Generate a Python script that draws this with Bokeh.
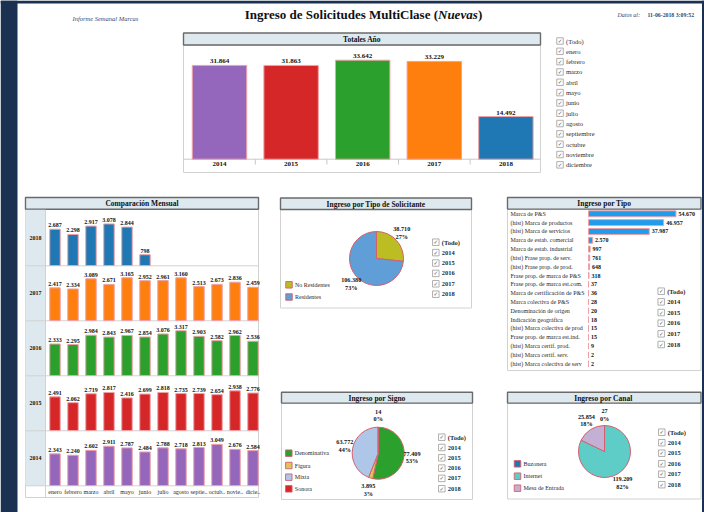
import math
from bokeh.plotting import figure
from bokeh.models import Range1d, ColumnDataSource
from bokeh.core.properties import value
from bokeh.embed import file_html
from bokeh.resources import INLINE

# ---------------- data ----------------
years = ["2014", "2015", "2016", "2017", "2018"]
year_totals = [31864, 31863, 33642, 33229, 14492]
year_colors = ["#9467bd", "#d62728", "#2ca02c", "#ff7f0e", "#1f77b4"]

month_names = ["enero", "febrero", "marzo", "abril", "mayo", "junio", "julio",
               "agosto", "septiembre", "octubre", "noviembre", "diciembre"]
month_axis_labels = ["enero", "febrero", "marzo", "abril", "mayo", "junio", "julio",
                     "agosto", "septie..", "octub..", "novie..", "dicie.."]
monthly_2018 = [2687, 2298, 2917, 3078, 2844, 798]
monthly_2017 = [2417, 2334, 3089, 2671, 3165, 2952, 2961, 3160, 2513, 2673, 2836, 2459]
monthly_2016 = [2333, 2295, 2984, 2843, 2967, 2854, 3076, 3317, 2903, 2582, 2962, 2536]
monthly_2015 = [2491, 2062, 2719, 2817, 2416, 2699, 2818, 2735, 2739, 2654, 2938, 2776]
monthly_2014 = [2343, 2240, 2602, 2911, 2787, 2484, 2788, 2718, 2813, 3049, 2676, 2584]

solicitante_cats = ["No Residentes", "Residentes"]
solicitante_vals = [38710, 106380]
solicitante_colors = ["#bcbd22", "#5f9ed6"]

tipo_cats = ["Marca de P&S", "(hist) Marca de productos", "(hist) Marca de servicios",
             "Marca de estab. comercial", "Marca de estab. industrial",
             "(hist) Frase prop. de serv.", "(hist) Frase prop. de prod.",
             "Frase prop. de marca de P&S", "Frase prop. de marca est.com.",
             "Marca de certificación de P&S", "Marca colectiva de P&S",
             "Denominación de origen", "Indicación geográfica",
             "(hist) Marca colectiva de prod", "Frase prop. de marca est.ind.",
             "(hist) Marca certif. prod.", "(hist) Marca certif. serv.",
             "(hist) Marca colectiva de serv"]
tipo_vals = [54670, 46957, 37987, 2570, 997, 761, 648, 318, 37, 36, 28, 20, 18, 15, 15, 9, 2, 2]

signo_cats = ["Denominativa", "Figura", "Mixta", "Sonora"]
signo_vals = [77409, 3895, 63772, 14]
signo_colors = ["#2ca02c", "#e0c35a", "#aec7e8", "#d62728"]

canal_cats = ["Buzonera", "Internet", "Mesa de Entrada"]
canal_vals = [27, 119209, 25854]
canal_colors = ["#1f77b4", "#5ecdc7", "#c5b0d5"]

filter_years = ["(Todo)"] + years
filter_months = ["(Todo)"] + month_names

# ---------------- figure ----------------
W, H = 704, 512
X0, X1, Y0, Y1 = 0, W, 0, H
FONT = "Liberation Serif"
BAR_LINE = "#f0a0a4"
PIE_LINE = "#d4606e"
NAVY = "#1b3152"

p = figure(width=W, height=H, x_range=Range1d(X0, X1), y_range=Range1d(Y1, Y0),
           output_backend="svg", toolbar_location=None, min_border=0,
           x_axis_location=None, y_axis_location=None, outline_line_color=None,
           background_fill_color="white", border_fill_color="white")
p.grid.visible = False


def lin_x(name, pa, va, pb, vb):
    f = lambda q: va + (q - pa) * (vb - va) / (pb - pa)
    p.extra_x_ranges[name] = Range1d(f(X0), f(X1))


def lin_y(name, pa, va, pb, vb):
    f = lambda q: va + (q - pa) * (vb - va) / (pb - pa)
    p.extra_y_ranges[name] = Range1d(f(Y1), f(Y0))


def fmt(v):
    return f"{v:,}".replace(",", ".")


def T(x, y, text, size, style="normal", align="center", baseline="middle",
      color="#111111", xr=None, yr=None, x_offset=0, y_offset=0, font=FONT):
    texts = text if isinstance(text, list) else [text]
    n = len(texts)
    xs = x if isinstance(x, list) else [x] * n
    ys = y if isinstance(y, list) else [y] * n
    kw = {}
    if xr:
        kw["x_range_name"] = xr
    if yr:
        kw["y_range_name"] = yr
    src = ColumnDataSource(dict(x=xs, y=ys, text=texts))
    p.text(x="x", y="y", text="text", source=src, text_font=value(font),
           text_font_size=f"{size}px", text_font_style=style, text_align=align,
           text_baseline=baseline, text_color=color, x_offset=x_offset,
           y_offset=y_offset, **kw)


def panel(l, r, tt, tb, cb, title):
    p.quad(left=[l], right=[r], top=[tb], bottom=[cb], fill_color="white",
           line_color="#d2d2d2", line_width=1)
    p.quad(left=[l], right=[r], top=[tt], bottom=[tb], fill_color="#dde9ef",
           line_color="#6a6a6a", line_width=1.4)
    T((l + r) / 2, (tt + tb) / 2 + 0.5, title, 7.5, style="bold")


def checklist(xb, y0, step, labels, bold):
    n = len(labels)
    ys = [y0 + step * i for i in range(n)]
    p.scatter(x=[xb] * n, y=ys, marker="square", size=6.5, fill_color="white",
              line_color="#9c9c9c", line_width=0.8)
    T([xb] * n, ys, ["\u2713"] * n, 5.5, color="#555555", font="DejaVu Sans")
    T([xb + 6] * n, ys, labels, 6.5, style="bold" if bold else "normal",
      align="left", color="#2a2a2a")


def legend(xb, ys, labels, colors):
    n = len(labels)
    p.scatter(x=[xb] * n, y=ys, marker="square", size=6.5, fill_color=colors,
              line_color=PIE_LINE, line_width=0.9)
    T([xb + 6] * n, ys, labels, 6, align="left", color="#2a2a2a")


def pie(cx, cy, r, vals, colors, lrx, lry):
    total = float(sum(vals))
    fr = [0.0]
    for v in vals:
        fr.append(fr[-1] + v / total)
    start = [math.pi / 2 - 2 * math.pi * fr[i] for i in range(len(vals))]
    end = [math.pi / 2 - 2 * math.pi * fr[i + 1] for i in range(len(vals))]
    src = ColumnDataSource(dict(x=[cx] * len(vals), y=[cy] * len(vals),
                                s=start, e=end, c=colors))
    p.wedge(x="x", y="y", radius=r, radius_units="screen", start_angle="s",
            end_angle="e", direction="clock", fill_color="c",
            line_color=PIE_LINE, line_width=1, source=src)
    lx, ly, lv, lp = [], [], [], []
    for i, v in enumerate(vals):
        th = 2 * math.pi * (fr[i] + fr[i + 1]) / 2
        lx.append(cx + math.sin(th) * lrx)
        ly.append(cy - math.cos(th) * lry)
        lv.append(fmt(v))
        lp.append(f"{round(v / total * 100)}%")
    T(lx, ly, lv, 6.2, style="bold", y_offset=-3.6)
    T(lx, ly, lp, 6.2, style="bold", y_offset=3.6)


# ---------------- background / header ----------------
p.quad(left=[X0], right=[17], top=[Y0], bottom=[Y1], fill_color=NAVY, line_color=None)
p.quad(left=[X0], right=[X1], top=[Y0], bottom=[3], fill_color=NAVY, line_color=None)
p.quad(left=[701.5], right=[X1], top=[Y0], bottom=[Y1], fill_color=NAVY, line_color=None)
T(72, 18, "Informe Semanal Marcas", 6.5, style="italic", align="left", color="#2b4c7e")
T(437.5, 14, "Ingreso de Solicitudes MultiClase (", 13, style="bold", align="right", color="#111111")
T(437.5, 14, "Nuevas", 13, style="bold italic", align="left", color="#111111")
T(477.5, 14, ")", 13, style="bold", align="left", color="#111111")
T(617, 14, "Datos al:", 6, style="italic", align="left", color="#2b4c7e")
T(647, 14, "11-06-2018 3:09:52", 5.8, style="bold", align="left", color="#2b4c7e")

# ---------------- Totales Año ----------------
panel(183, 540, 32.5, 44.5, 172, "Totales Año")
lin_x("tx", 219, 0, 290.6, 1)
lin_y("ty", 158.7, 0, 158.7 - 29.43, 10000)
yi = list(range(len(years)))
p.segment(x0=[183], x1=[540], y0=[158.7], y1=[158.7], line_color="#c8c8c8", line_width=1)
p.segment(x0=[i + 0.5 for i in yi[:-1]], x1=[i + 0.5 for i in yi[:-1]],
          y0=[158.7] * 4, y1=[164] * 4, line_color="#c8c8c8", line_width=1, x_range_name="tx")
p.vbar(x=yi, top=year_totals, bottom=0, width=0.76, fill_color=year_colors,
       line_color=BAR_LINE, line_width=1, x_range_name="tx", y_range_name="ty")
T(yi, year_totals, [fmt(v) for v in year_totals], 7, style="bold", baseline="bottom",
  y_offset=-2, xr="tx", yr="ty")
T(yi, [0] * 5, years, 7, style="bold", baseline="top", y_offset=3, xr="tx", yr="ty")

checklist(559.5, 40.5, 10.32, filter_months, False)

# ---------------- Comparación Mensual ----------------
panel(25, 258, 197, 208.8, 497, "Comparación Mensual")
p.quad(left=[25], right=[45], top=[209.3], bottom=[485.3], fill_color="#dde9ef", line_color=None)
row_years = ["2018", "2017", "2016", "2015", "2014"]
row_data = {"2018": monthly_2018, "2017": monthly_2017, "2016": monthly_2016,
            "2015": monthly_2015, "2014": monthly_2014}
lin_x("mx", 54.5, 0, 72.5, 1)
for r, yname in enumerate(row_years):
    top = 210.3 + 55 * r
    base = top + 55
    p.segment(x0=[25], x1=[258], y0=[base], y1=[base], line_color="#d2d2d2", line_width=1)
    rng = "m" + yname
    lin_y(rng, base - 0.3, 0, base - 0.3 - 13.5, 1000)
    vals = row_data[yname]
    xi = list(range(len(vals)))
    col = year_colors[years.index(yname)]
    p.vbar(x=xi, top=vals, bottom=0, width=0.58, fill_color=col, line_color=BAR_LINE,
           line_width=1, x_range_name="mx", y_range_name=rng)
    T(xi, vals, [fmt(v) for v in vals], 6, style="bold", baseline="bottom", y_offset=-2,
      xr="mx", yr=rng)
    T(35, top + 27.5, yname, 6, style="bold")
p.segment(x0=[45], x1=[45], y0=[209.3], y1=[497], line_color="#d2d2d2", line_width=1)
T(list(range(12)), [491.5] * 12, month_axis_labels, 6, xr="mx", color="#2a2a2a")

# ---------------- Ingreso por Tipo de Solicitante ----------------
panel(280, 471, 197.5, 209, 307.5, "Ingreso por Tipo de Solicitante")
pie(376, 258, 27, solicitante_vals, solicitante_colors, 34, 38)
legend(288.5, [284.3, 296.5], solicitante_cats, solicitante_colors)
checklist(435.3, 241.7, 10.4, filter_years, True)

# ---------------- Ingreso por Tipo ----------------
panel(507, 700.5, 197, 208.6, 370, "Ingreso por Tipo")
lin_x("kx", 588, 0, 604, 10000)
lin_y("ky", 213.3, 0, 222.12, 1)
ti = list(range(len(tipo_cats)))
p.hbar(y=ti, left=0, right=tipo_vals, height=0.68, fill_color="#1f9cec",
       line_color=BAR_LINE, line_width=1, x_range_name="kx", y_range_name="ky")
T([510] * len(ti), ti, tipo_cats, 6, align="left", yr="ky", color="#2a2a2a")
T(tipo_vals, ti, [fmt(v) for v in tipo_vals], 6, style="bold", align="left", x_offset=2.5,
  xr="kx", yr="ky")
checklist(660.7, 290.7, 10.66, filter_years, True)

# ---------------- Ingreso por Signo ----------------
panel(281, 472, 391.7, 402.6, 499, "Ingreso por Signo")
pie(377.7, 452.7, 26, signo_vals, signo_colors, 34, 38)
legend(288.3, [452.7, 465, 476.7, 488.3], signo_cats, signo_colors)
checklist(441.3, 436.7, 10.3, filter_years, True)

# ---------------- Ingreso por Canal ----------------
panel(507, 700.5, 391.7, 402.6, 498.5, "Ingreso  por Canal")
pie(604, 451, 26, canal_vals, canal_colors, 34, 37)
legend(517, [463.3, 475.7, 487.7], canal_cats, canal_colors)
checklist(661.3, 431.7, 10.5, filter_years, True)

open("out.html", "w").write(file_html(p, INLINE))
